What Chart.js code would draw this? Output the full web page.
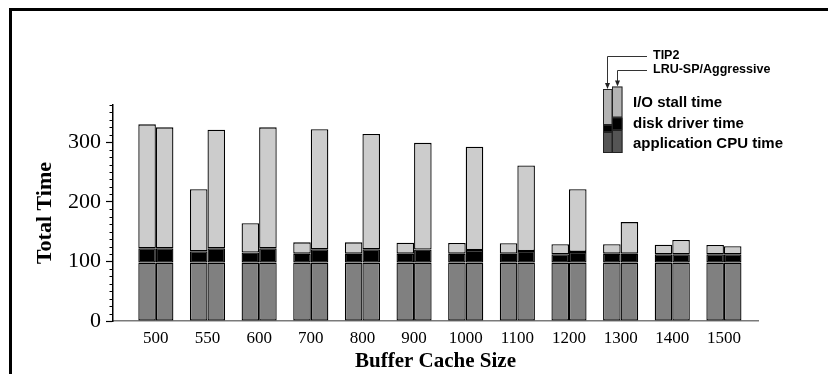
<!DOCTYPE html>
<html>
<head>
<meta charset="utf-8">
<script src="https://cdn.jsdelivr.net/npm/chart.js@4/dist/chart.umd.min.js"></script>
<style>
  html, body { margin: 0; padding: 0; background: #fff; }
</style>
</head>
<body>
<canvas id="myChart" width="828" height="374"></canvas>
<script>
// buffer cache sizes (x categories)
var cacheSizes = ["500", "550", "600", "700", "800", "900", "1000", "1100", "1200", "1300", "1400", "1500"];

// TIP2 (left bar of each pair)
var tip2Cpu    = [98, 98, 98, 98, 98, 98, 98, 98, 98, 98, 98, 98];
var tip2Driver = [24, 19, 17, 15, 15, 15, 15, 15, 14, 15, 14, 14];
var tip2Stall  = [208, 104, 49, 19, 19, 18.5, 18, 17.5, 17, 16, 16, 15.5];

// LRU-SP/Aggressive (right bar of each pair)
var lruCpu    = [98, 98, 98, 98, 98, 98, 98, 98, 98, 98, 98, 98];
var lruDriver = [24, 24, 24, 22.5, 22.5, 22, 21, 19.5, 18, 15, 14, 14];
var lruStall  = [203, 199, 203, 201.5, 193.5, 179, 173.5, 143.5, 105, 53, 24, 13.5];

var yTickLabels = [0, 100, 200, 300];

function series(label, values, stack, color) {
    return {
        label: label,
        stack: stack,
        data: values.map(function (v, i) { return {x: i, y: v}; }),
        backgroundColor: color,
        borderColor: "#000",
        borderWidth: 1.3,
        borderSkipped: false,
        categoryPercentage: 0.68,
        barPercentage: 1
    };
}

var framePlugin = {
    id: "frame",
    beforeDraw: function (chart) {
        var ctx = chart.ctx;
        ctx.save();
        ctx.fillStyle = "#000";
        ctx.fillRect(9, 8, 819, 3);
        ctx.fillRect(9, 8, 3, 366);
        ctx.restore();
    }
};

var minorTicksPlugin = {
    id: "minorTicks",
    afterDraw: function (chart) {
        var y = chart.scales.y, ctx = chart.ctx;
        ctx.save();
        ctx.strokeStyle = "#000";
        ctx.lineWidth = 1;
        for (var v = 12.5; v <= y.max; v += 12.5) {
            if (v % 100 === 0) continue;
            var py = Math.round(y.getPixelForValue(v)) + 0.5;
            ctx.beginPath();
            ctx.moveTo(y.right - 3.5, py);
            ctx.lineTo(y.right, py);
            ctx.stroke();
        }
        ctx.restore();
    }
};

var legendPlugin = {
    id: "sideLegend",
    afterDraw: function (chart) {
        var ctx = chart.ctx;
        ctx.save();
        function seg(x, y0, y1, w, col) {
            ctx.fillStyle = col;
            ctx.fillRect(x, y0, w, y1 - y0);
            ctx.strokeStyle = "#222";
            ctx.lineWidth = 1;
            ctx.strokeRect(x + 0.5, y0 + 0.5, w - 1, y1 - y0 - 1);
        }
        // left (TIP2) sample bar
        seg(603, 89, 125, 9.5, "#b4b4b4");
        seg(603, 125, 132, 9.5, "#000");
        seg(603, 132, 153, 9.5, "#555");
        // right (LRU-SP) sample bar
        seg(612, 86.5, 117.5, 10.5, "#b4b4b4");
        seg(612, 117.5, 130, 10.5, "#000");
        seg(612, 130, 153, 10.5, "#555");

        // arrows
        ctx.strokeStyle = "#333";
        ctx.fillStyle = "#222";
        ctx.lineWidth = 1;
        function arrow(yText, xDown, yTip) {
            ctx.beginPath();
            ctx.moveTo(647, yText + 0.5);
            ctx.lineTo(xDown, yText + 0.5);
            ctx.lineTo(xDown, yTip - 5);
            ctx.stroke();
            ctx.beginPath();
            ctx.moveTo(xDown - 2.5, yTip - 6);
            ctx.lineTo(xDown + 2.5, yTip - 6);
            ctx.lineTo(xDown, yTip);
            ctx.closePath();
            ctx.fill();
        }
        arrow(56, 607.5, 89);
        arrow(70, 617.5, 86.5);

        ctx.fillStyle = "#000";
        ctx.textBaseline = "middle";
        ctx.font = "bold 12.5px 'Liberation Sans'";
        ctx.fillText("TIP2", 653, 55.5);
        ctx.fillText("LRU-SP/Aggressive", 653, 70);
        ctx.font = "bold 15px 'Liberation Sans'";
        ctx.fillText("I/O stall time", 633, 103);
        ctx.fillText("disk driver time", 633, 123.5);
        ctx.fillText("application CPU time", 633, 144);
        ctx.restore();
    }
};

const chart = document.getElementById("myChart");
var barChart = new Chart(chart, {
    type: "bar",
    data: {
        datasets: [
            series("application CPU time", tip2Cpu, "tip2", "#808080"),
            series("disk driver time", tip2Driver, "tip2", "#000000"),
            series("I/O stall time", tip2Stall, "tip2", "#cccccc"),
            series("application CPU time", lruCpu, "lru", "#808080"),
            series("disk driver time", lruDriver, "lru", "#000000"),
            series("I/O stall time", lruStall, "lru", "#cccccc")
        ]
    },
    options: {
        responsive: false,
        animation: false,
        devicePixelRatio: 1,
        layout: {padding: {top: 105, right: 70, bottom: 0, left: 0}},
        plugins: {
            legend: {display: false},
            tooltip: {enabled: false}
        },
        scales: {
            x: {
                type: "linear",
                offset: false,
                min: -0.83,
                max: 11.66,
                afterBuildTicks: function (s) {
                    s.ticks = cacheSizes.map(function (c, i) { return {value: i}; });
                },
                afterFit: function (s) { s.height = 53; },
                ticks: {
                    autoSkip: false,
                    maxRotation: 0,
                    padding: 7,
                    color: "#000",
                    font: {family: "'Liberation Serif'", size: 17},
                    callback: function (v) { return cacheSizes[v]; }
                },
                grid: {display: false, drawTicks: false, offset: false},
                border: {display: true, color: "#7a7a7a", width: 1.5},
                title: {
                    display: true,
                    text: "Buffer Cache Size",
                    color: "#000",
                    font: {family: "'Liberation Serif'", size: 21, weight: "bold"},
                    padding: {top: 0, bottom: 0}
                }
            },
            y: {
                stacked: true,
                min: 0,
                max: 362.5,
                afterBuildTicks: function (s) {
                    s.ticks = yTickLabels.map(function (v) { return {value: v}; });
                },
                afterFit: function (s) { s.width = 113; },
                ticks: {
                    padding: 5,
                    color: "#000",
                    font: {family: "'Liberation Serif'", size: 22}
                },
                grid: {drawOnChartArea: false, drawTicks: true, tickLength: 7, color: "#000", tickWidth: 1.2},
                border: {display: true, color: "#000", width: 1.5},
                title: {
                    display: true,
                    text: "Total Time",
                    color: "#000",
                    font: {family: "'Liberation Serif'", size: 22, weight: "bold"},
                    padding: {top: 32, bottom: 0}
                }
            }
        }
    },
    plugins: [framePlugin, minorTicksPlugin, legendPlugin]
});
</script>
</body>
</html>
